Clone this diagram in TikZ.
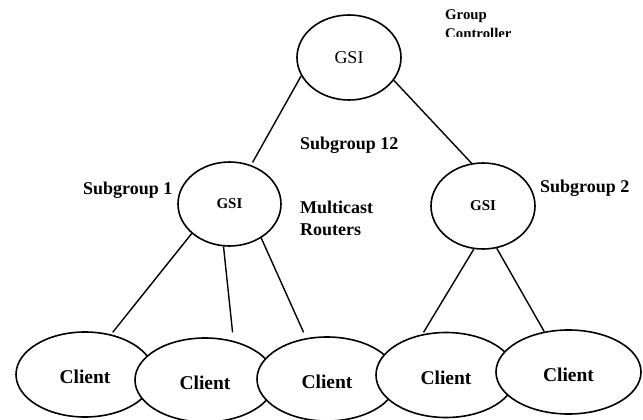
\documentclass[tikz,border=0pt]{standalone}
\usepackage{fontspec}
\setmainfont{Liberation Serif}
\usetikzlibrary{shapes.geometric}
\begin{document}
\begin{tikzpicture}[x=1pt,y=-1pt,
  gsi/.style={ellipse, draw, fill=white, line width=1.6pt, inner sep=0pt},
  client/.style={ellipse, draw, fill=white, line width=1.6pt, inner sep=0pt,
    font=\fontsize{19.5}{23}\selectfont\bfseries, text height=19pt},
  lbl/.style={inner sep=0pt, font=\fontsize{18}{22}\selectfont\bfseries},
  link/.style={line width=1.4pt}]

\useasboundingbox[fill=white] (0,0) rectangle (643,420);

% group controller and the two subgroup routers
\node[gsi, minimum width=104pt, minimum height=85pt,
      font=\fontsize{18}{21}\selectfont] (gc) at (349,57.5) {GSI};
\node[gsi, minimum width=103pt, minimum height=84pt,
      font=\fontsize{15}{18}\selectfont\bfseries] (sg1) at (229.5,204) {GSI};
\node[gsi, minimum width=104pt, minimum height=86pt,
      font=\fontsize{15}{18}\selectfont\bfseries] (sg2) at (483,206) {GSI};

% clients, each one overlapping the previous one
\node[client, minimum width=138pt, minimum height=85pt] (c1) at (85,374.5) {Client};
\node[client, minimum width=140pt, minimum height=84pt] (c2) at (205,380) {Client};
\node[client, minimum width=140pt, minimum height=84pt] (c3) at (327,379) {Client};
\node[client, minimum width=140pt, minimum height=85pt] (c4) at (446,375) {Client};
\node[client, minimum width=145pt, minimum height=84pt] (c5) at (568.5,372) {Client};

% tree links
\draw[link, shorten >=3pt] (gc.201) -- (sg1.61);
\draw[link] (gc.-27) -- (sg2.105);
\draw[link, shorten >=2.6pt] (sg1.218) -- (c1.57);
\draw[link, shorten >=8.4pt] (sg1.262) -- (c2.54);
\draw[link, shorten >=6.3pt] (sg1.-47) -- (c3.117);
\draw[link, shorten >=2.1pt] (sg2.258) -- (c4.120);
\draw[link] (sg2.-72) -- (c5.121);

% labels
\node[lbl, anchor=base west] (sub1) at (83,194) {Subgroup 1};
\node[lbl, anchor=base west] (sub12) at (300,149) {Subgroup 12};
\node[lbl, anchor=base west] (sub2) at (540,192) {Subgroup 2};
\node[lbl, anchor=north west, align=left] (mr) at (300,201) {Multicast\\Routers};

% the second line of this label is cut off along its bottom
\begin{scope}
  \clip (440,0) rectangle (530,37);
  \node[inner sep=0pt, anchor=north west, align=left,
        font=\fontsize{14.8}{19}\selectfont\bfseries] (ctrl) at (445,10) {Group\\Controller};
\end{scope}
\end{tikzpicture}
\end{document}
